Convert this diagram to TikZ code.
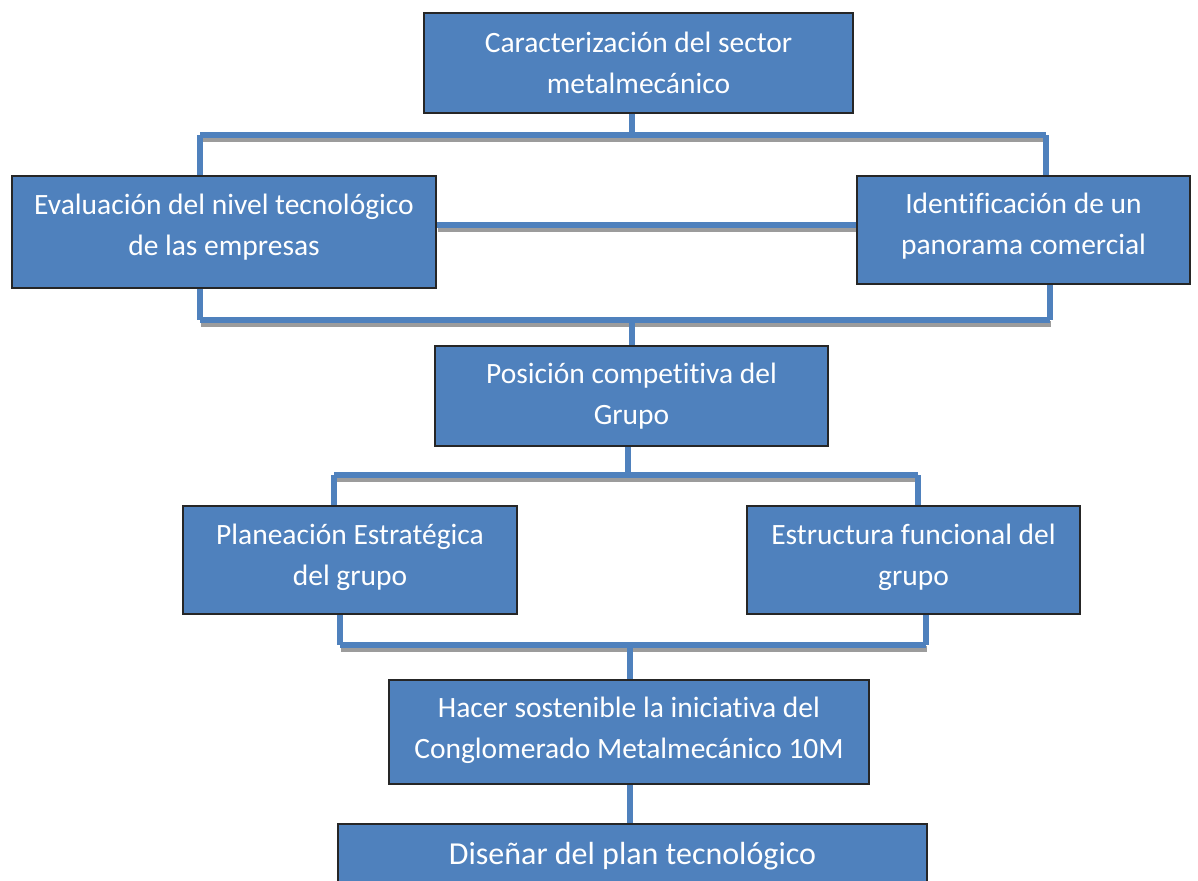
\documentclass[tikz,border=0pt]{standalone}
\usepackage{fontspec}
\setmainfont{Carlito}[Ligatures=NoCommon]
\usetikzlibrary{backgrounds}
\definecolor{boxblue}{HTML}{4F81BD}
\definecolor{shadowgray}{HTML}{9C9C9C}
\tikzset{
  box/.style={draw=black!85, line width=1.3pt, fill=boxblue, inner sep=0pt},
  boxtext/.style={text=white, align=center, inner sep=0pt, font=\fontsize{29.5}{41}\selectfont},
  conn/.style={draw=boxblue, line width=5.5pt, line cap=butt,
    preaction={draw=shadowgray, line width=5.5pt, transform canvas={shift={(1pt,-4pt)}}}},
  plain/.style={draw=boxblue, line width=5.5pt, line cap=butt}
}
\begin{document}
\begin{tikzpicture}[x=1pt,y=-1pt]
\useasboundingbox (0,0) rectangle (1198,880);
\node[box, minimum width=429pt, minimum height=100pt] (car) at (638.5,63) {};
\node[box, minimum width=424pt, minimum height=112pt] (eva) at (224,232) {};
\node[box, minimum width=333pt, minimum height=108pt] (ide) at (1023.5,230) {};
\node[box, minimum width=393pt, minimum height=100pt] (pos) at (631.5,396) {};
\node[box, minimum width=334pt, minimum height=108pt] (pla) at (350,560) {};
\node[box, minimum width=333pt, minimum height=108pt] (est) at (913.5,560) {};
\node[box, minimum width=480pt, minimum height=104pt] (hac) at (629,732) {};
\node[box, minimum width=589pt, minimum height=64pt] (dis) at (632.5,856) {};

\node[boxtext] (cart) at ([yshift=0pt]car.center) {Caracterización del sector\\metalmecánico};
\node[boxtext] (evat) at ([yshift=5pt]eva.center) {Evaluación del nivel tecnológico\\de las empresas};
\node[boxtext] (idet) at ([yshift=4pt]ide.center) {Identificación de un\\panorama comercial};
\node[boxtext] (post) at ([yshift=0pt]pos.center) {Posición competitiva del\\Grupo};
\node[boxtext] (plat) at ([yshift=3pt]pla.center) {Planeación Estratégica\\del grupo};
\node[boxtext] (estt) at ([yshift=3pt]est.center) {Estructura funcional del\\grupo};
\node[boxtext] (hact) at ([yshift=2pt]hac.center) {Hacer sostenible la iniciativa del\\Conglomerado Metalmecánico 10M};
\node[boxtext, font=\fontsize{32}{38}\selectfont] (dist) at (dis.center) {Diseñar del plan tecnológico};

\begin{scope}[on background layer]
% level 1
\coordinate (j1) at (632,135);
\coordinate (j1l) at (200,135);
\coordinate (j1r) at (1046,135);
\draw[plain] (car.south -| j1) -- (j1);
\draw[conn] (j1l) -- (j1r);
\draw[plain] (j1l) -- (j1l |- eva.north);
\draw[plain] (j1r) -- (j1r |- ide.north);
% middle link
\draw[conn] (eva.east |- 0,225) -- (ide.west |- 0,225);
% level 2
\coordinate (j2l) at (200,320);
\coordinate (j2r) at (1050,320);
\coordinate (j2) at (632,320);
\draw[plain] (eva.south -| j2l) -- (j2l);
\draw[plain] (ide.south -| j2r) -- (j2r);
\draw[conn] (j2l) -- (j2r);
\draw[plain] (j2) -- (pos.north -| j2);
% level 3
\coordinate (j3) at (628,475);
\coordinate (j3l) at (334,475);
\coordinate (j3r) at (918,475);
\draw[plain] (pos.south -| j3) -- (j3);
\draw[conn] (j3l) -- (j3r);
\draw[plain] (j3l) -- (j3l |- pla.north);
\draw[plain] (j3r) -- (j3r |- est.north);
% level 4
\coordinate (j4l) at (340,645);
\coordinate (j4r) at (926,645);
\coordinate (j4) at (630,645);
\draw[plain] (pla.south -| j4l) -- (j4l);
\draw[plain] (est.south -| j4r) -- (j4r);
\draw[conn] (j4l) -- (j4r);
\draw[plain] (j4) -- (hac.north -| j4);
% last
\draw[plain] (hac.south -| j4) -- (dis.north -| j4);
\end{scope}
\end{tikzpicture}
\end{document}
